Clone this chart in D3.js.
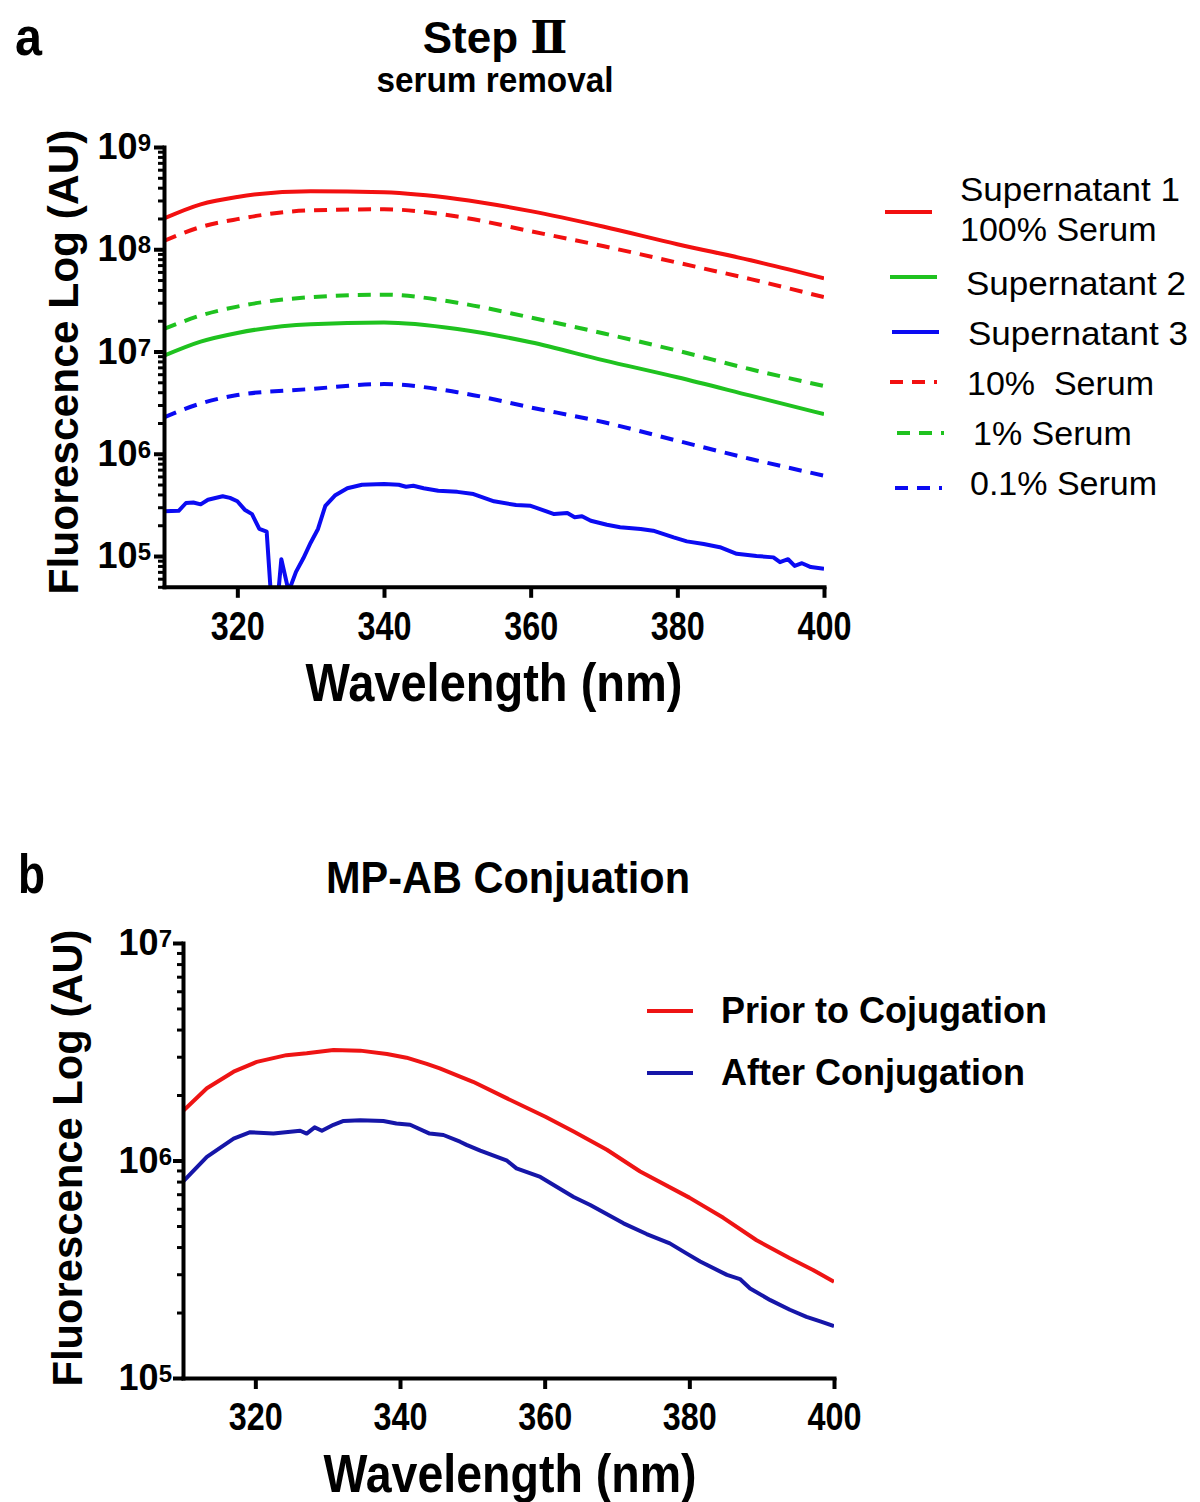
<!DOCTYPE html>
<html>
<head>
<meta charset="utf-8">
<script src="https://cdn.jsdelivr.net/npm/d3@7"></script>
<style>
	body { margin: 0; background: #ffffff; }
	svg text { font-family: "Liberation Sans", Arial, sans-serif; fill: #000000; }
</style>
</head>
<body>
<svg id="chart" width="1200" height="1502"></svg>
<script>
/*	Panel a data --------------------------------------------------------------*/
var wavelengthA = [310, 315, 320, 330, 340, 350, 360, 370, 380, 390, 400];
var supernatant1 = [2.0e8, 2.75e8, 3.25e8, 3.7e8, 3.6e8, 3.1e8, 2.36e8, 1.66e8, 1.12e8, 7.8e7, 5.2e7];
var supernatant2 = [9.1e6, 1.25e7, 1.52e7, 1.85e7, 1.92e7, 1.66e7, 1.23e7, 8.2e6, 5.6e6, 3.7e6, 2.44e6];
var serum10 = [1.21e8, 1.65e8, 1.97e8, 2.4e8, 2.46e8, 2.09e8, 1.5e8, 1.07e8, 7.4e7, 5.1e7, 3.4e7];
var serum1 = [1.66e7, 2.25e7, 2.75e7, 3.4e7, 3.6e7, 3.0e7, 2.15e7, 1.5e7, 1.02e7, 6.7e6, 4.6e6];
var serum01 = [2.27e6, 3.1e6, 3.75e6, 4.3e6, 4.8e6, 4.0e6, 2.84e6, 2.03e6, 1.34e6, 8.9e5, 6.1e5];

/*	Supernatant 3 is noisy, it has its own wavelengths ------------------------*/
var wavelengthS3 = [310, 312, 313, 314, 315, 316, 318, 319, 320, 321, 322, 323, 324, 325, 326, 327, 328, 329, 330, 331,
	332, 333.3, 335, 337, 340, 342, 343, 344, 345.4, 347.4, 350, 352.2, 355, 358, 360, 363.2, 365, 366, 367, 368.2,
	370.4, 372.2, 375, 376.7, 379.5, 381.3, 383.6, 385.8, 388.1, 390.8, 393.1, 394, 395.1, 396, 397, 398.2, 400];
var supernatant3 = [2.74e5, 2.77e5, 3.3e5, 3.34e5, 3.2e5, 3.55e5, 3.84e5, 3.7e5, 3.43e5, 2.84e5, 2.57e5, 1.84e5, 1.73e5, 1.5e4, 9.3e4, 4.5e4, 7.0e4, 9.5e4, 1.35e5, 1.84e5,
	3.1e5, 3.9e5, 4.6e5, 4.98e5, 5.06e5, 4.98e5, 4.76e5, 4.87e5, 4.6e5, 4.35e5, 4.24e5, 4.04e5, 3.43e5, 3.15e5, 3.1e5, 2.57e5, 2.63e5, 2.39e5, 2.45e5, 2.21e5,
	2.02e5, 1.91e5, 1.84e5, 1.77e5, 1.52e5, 1.39e5, 1.31e5, 1.22e5, 1.05e5, 1.0e5, 9.7e4, 8.7e4, 9.3e4, 8.0e4, 8.5e4, 7.8e4, 7.5e4];

/*	Panel b data ----------------------------------------------------------------*/
var wavelengthPrior = [310, 313.3, 317, 320.2, 324.3, 327.1, 330.8, 334.5, 338.2, 340.9, 343.7, 345.5, 348.3, 350.1, 354.8,
	360.1, 364, 368.6, 373.2, 380, 384.7, 389.3, 393.9, 397.1, 400];
var priorConjugation = [1.69e6, 2.15e6, 2.56e6, 2.84e6, 3.05e6, 3.11e6, 3.22e6, 3.2e6, 3.09e6, 2.97e6, 2.78e6, 2.65e6, 2.43e6, 2.3e6, 1.93e6,
	1.59e6, 1.36e6, 1.12e6, 8.9e5, 6.75e5, 5.45e5, 4.3e5, 3.55e5, 3.14e5, 2.77e5];
var wavelengthAfter = [310, 313.3, 317, 319.3, 322.5, 326.2, 327.1, 328.2, 329.2, 330.8, 332.2, 334.5, 337.7, 339.5, 341.4, 344.1,
	346, 348.3, 349.2, 351.1, 354.8, 356.1, 359.4, 364, 366.3, 370.9, 374.1, 377.3, 379.6, 381.5, 385.2, 387, 388.4, 391.2,
	393.9, 396.2, 398.1, 400];
var afterConjugation = [7.99e5, 1.04e6, 1.26e6, 1.35e6, 1.33e6, 1.37e6, 1.33e6, 1.42e6, 1.37e6, 1.46e6, 1.52e6, 1.53e6, 1.52e6, 1.48e6, 1.46e6, 1.33e6,
	1.31e6, 1.22e6, 1.18e6, 1.11e6, 9.98e5, 9.2e5, 8.4e5, 6.8e5, 6.24e5, 5.14e5, 4.59e5, 4.16e5, 3.74e5, 3.43e5, 2.98e5, 2.85e5, 2.58e5, 2.28e5,
	2.06e5, 1.91e5, 1.82e5, 1.73e5];

/*	Ticks and labels ------------------------------------------------------------*/
var xTicks = [320, 340, 360, 380, 400];
var yExpA = [5, 6, 7, 8, 9];
var yExpB = [5, 6, 7];
var legendALabels = [["Supernatant 1", "100% Serum"], ["Supernatant 2"], ["Supernatant 3"], ["10%  Serum"], ["1% Serum"], ["0.1% Serum"]];
var legendBLabels = ["Prior to Cojugation", "After Conjugation"];

var svg = d3.select("#chart");

/*	Small helper for text --------------------------------------------------------*/
var addText = function(g, x, y, str, size, weight, anchor, len) {
	var t = g.append("text")
		.attr("x", x)
		.attr("y", y)
		.attr("font-size", size + "px")
		.attr("font-weight", weight)
		.attr("text-anchor", anchor)
		.style("white-space", "pre")
		.text(str);
	if (len) {
		t.attr("textLength", len).attr("lengthAdjust", "spacingAndGlyphs");
	}
	return t;
}

/*	Build one panel : scales, axes, clip --------------------------------------*/
var makePanel = function(p) {
	var self = p;
	self.x = d3.scaleLinear().domain([310, 400]).range([self.left, self.right]);
	self.y = d3.scaleLog().domain(self.yDomain).range([self.bottom, self.top]);
	self.g = svg.append("g");

	/*	clip the curves to the plot area ---------------------------------------*/
	svg.append("clipPath").attr("id", self.id + "clip")
		.append("rect")
		.attr("x", self.left)
		.attr("y", self.top - 20)
		.attr("width", self.right - self.left)
		.attr("height", self.bottom - self.top + 20);
	self.plot = self.g.append("g").attr("clip-path", "url(#" + self.id + "clip)");

	/*	minor ticks on y axis -----------------------------------------------------*/
	var minors = [];
	var lo = Math.floor(Math.log10(self.yDomain[0]));
	var hi = Math.log10(self.yDomain[1]);
	for (var e = lo; e < hi; e++) {
		for (var k = 2; k <= 9; k++) {
			var v = k * Math.pow(10, e);
			if (v >= self.yDomain[0] && v < self.yDomain[1]) minors.push(v);
		}
	}
	var yMinor = self.g.append("g")
		.attr("transform", "translate(" + self.left + ",0)")
		.call(d3.axisLeft(self.y).tickValues(minors).tickSize(6).tickSizeOuter(0).tickFormat(""));
	yMinor.select("path.domain").remove();
	yMinor.selectAll("g.tick line").attr("stroke", "#000").attr("stroke-width", 3);

	/*	major ticks on y axis -----------------------------------------------------*/
	var yMajor = self.g.append("g")
		.attr("transform", "translate(" + self.left + ",0)")
		.call(d3.axisLeft(self.y).tickValues(self.yExp.map(function(d) { return Math.pow(10, d); }))
			.tickSize(10).tickSizeOuter(0).tickFormat(""));
	yMajor.select("path.domain").attr("stroke", "#000").attr("stroke-width", 4).attr("stroke-linecap", "square");
	yMajor.selectAll("g.tick line").attr("stroke", "#000").attr("stroke-width", 4);

	/*	y tick labels 10^n --------------------------------------------------------*/
	self.yExp.forEach(function(d) {
		var yy = self.y(Math.pow(10, d));
		var t = self.g.append("text")
			.attr("x", self.yLabelEnd)
			.attr("y", yy + 12)
			.attr("text-anchor", "end")
			.attr("font-weight", "bold");
		t.append("tspan").attr("font-size", "36px").text("10");
		t.append("tspan").attr("font-size", "24px").attr("dy", -8).text(d);
	});

	/*	x axis ---------------------------------------------------------------------*/
	var xAxis = self.g.append("g")
		.attr("transform", "translate(0," + self.bottom + ")")
		.call(d3.axisBottom(self.x).tickValues(xTicks).tickSize(11).tickSizeOuter(0));
	xAxis.select("path.domain").attr("stroke", "#000").attr("stroke-width", 4).attr("stroke-linecap", "square");
	xAxis.selectAll("g.tick line").attr("stroke", "#000").attr("stroke-width", 4);
	xAxis.selectAll("g.tick text")
		.attr("y", self.xLabelBase - self.bottom)
		.attr("dy", 0)
		.attr("font-size", self.xLabelSize + "px")
		.attr("font-weight", "bold")
		.attr("fill", "#000")
		.attr("textLength", 54)
		.attr("lengthAdjust", "spacingAndGlyphs");

	/*	axis titles ---------------------------------------------------------------*/
	addText(self.g, self.xTitle[0], self.xTitle[1], "Wavelength (nm)", 54, "bold", "middle", self.xTitle[2]);
	addText(self.g, 0, 0, "Fluorescence Log (AU)", 42, "bold", "middle", self.yTitle[2])
		.attr("transform", "translate(" + self.yTitle[0] + "," + self.yTitle[1] + ")rotate(-90)");
	return self;
}

/*	Add one curve -------------------------------------------------------------------*/
var addCurve = function(panel, xs, ys, color, dash, curve) {
	var self = panel;
	var pts = xs.map(function(d, i) { return [d, ys[i]]; });
	self.plot.append("path")
		.datum(pts)
		.attr("fill", "none")
		.attr("stroke", color)
		.attr("stroke-width", 4)
		.attr("stroke-dasharray", dash)
		.attr("stroke-linejoin", "round")
		.attr("d", d3.line()
			.curve(curve)
			.x(function(d) { return self.x(d[0]); })
			.y(function(d) { return self.y(d[1]); }));
}

/*	Panel a ---------------------------------------------------------------------------*/
var panelA = makePanel({
	id: "a", left: 164, right: 824, top: 147, bottom: 586.8,
	yDomain: [5e4, 1e9], yExp: yExpA, yLabelEnd: 151,
	xLabelBase: 640, xLabelSize: 40,
	xTitle: [494, 701, 377], yTitle: [78, 362, 465]
});

var RED = "#f21010", GREEN = "#1fc21f", BLUE = "#0b0bf2", DASH = "13,9";
var seriesA = [
	{ x: wavelengthA, y: supernatant1, color: RED, dash: null, curve: d3.curveMonotoneX },
	{ x: wavelengthA, y: supernatant2, color: GREEN, dash: null, curve: d3.curveMonotoneX },
	{ x: wavelengthS3, y: supernatant3, color: BLUE, dash: null, curve: d3.curveLinear },
	{ x: wavelengthA, y: serum10, color: RED, dash: DASH, curve: d3.curveMonotoneX },
	{ x: wavelengthA, y: serum1, color: GREEN, dash: DASH, curve: d3.curveMonotoneX },
	{ x: wavelengthA, y: serum01, color: BLUE, dash: DASH, curve: d3.curveMonotoneX }
];
seriesA.forEach(function(s) {
	addCurve(panelA, s.x, s.y, s.color, s.dash, s.curve);
});

/*	Legend a ---------------------------------------------------------------------------*/
var legendALayout = [
	{ lineY: 212, lineX: 885, textX: 960, base: [201, 241] },
	{ lineY: 277, lineX: 890, textX: 966, base: [295] },
	{ lineY: 332, lineX: 892, textX: 968, base: [345] },
	{ lineY: 382, lineX: 890, textX: 967, base: [395] },
	{ lineY: 433, lineX: 897, textX: 973, base: [445] },
	{ lineY: 488, lineX: 895, textX: 970, base: [495] }
];
legendALabels.forEach(function(lines, i) {
	var l = legendALayout[i];
	svg.append("line")
		.attr("x1", l.lineX).attr("x2", l.lineX + 47)
		.attr("y1", l.lineY).attr("y2", l.lineY)
		.attr("stroke", seriesA[i].color)
		.attr("stroke-width", 4)
		.attr("stroke-dasharray", seriesA[i].dash);
	lines.forEach(function(str, j) {
		addText(svg, l.textX, l.base[j], str, 34, "normal", "start", str.length > 11 ? 220 : null);
	});
});

/*	Titles a ---------------------------------------------------------------------------*/
addText(svg, 15, 55, "a", 54, "bold", "start", 27);
var stepTitle = svg.append("text")
	.attr("x", 495).attr("y", 53)
	.attr("text-anchor", "middle")
	.attr("font-weight", "bold")
	.attr("font-size", "44px");
stepTitle.append("tspan").text("Step ");
stepTitle.append("tspan").style("font-family", "'Liberation Serif', 'DejaVu Serif', serif").text("Ⅱ");
addText(svg, 495, 92, "serum removal", 35, "bold", "middle", 237);

/*	Panel b ---------------------------------------------------------------------------*/
var panelB = makePanel({
	id: "b", left: 183, right: 834, top: 943, bottom: 1378,
	yDomain: [1e5, 1e7], yExp: yExpB, yLabelEnd: 172,
	xLabelBase: 1430, xLabelSize: 38,
	xTitle: [510, 1492, 373], yTitle: [82, 1158, 457]
});
var RED_B = "#ee1414", BLUE_B = "#1616a8";
addCurve(panelB, wavelengthPrior, priorConjugation, RED_B, null, d3.curveLinear);
addCurve(panelB, wavelengthAfter, afterConjugation, BLUE_B, null, d3.curveLinear);

/*	Legend b ---------------------------------------------------------------------------*/
var legendBColors = [RED_B, BLUE_B];
var legendBRows = [1011, 1073];
legendBLabels.forEach(function(str, i) {
	svg.append("line")
		.attr("x1", 647).attr("x2", 693)
		.attr("y1", legendBRows[i]).attr("y2", legendBRows[i])
		.attr("stroke", legendBColors[i])
		.attr("stroke-width", 4);
	addText(svg, 721, legendBRows[i] + 12, str, 36, "bold", "start");
});

/*	Titles b ---------------------------------------------------------------------------*/
addText(svg, 18, 893, "b", 56, "bold", "start", 27);
addText(svg, 508, 893, "MP-AB Conjuation", 44, "bold", "middle", 364);
</script>
</body>
</html>
